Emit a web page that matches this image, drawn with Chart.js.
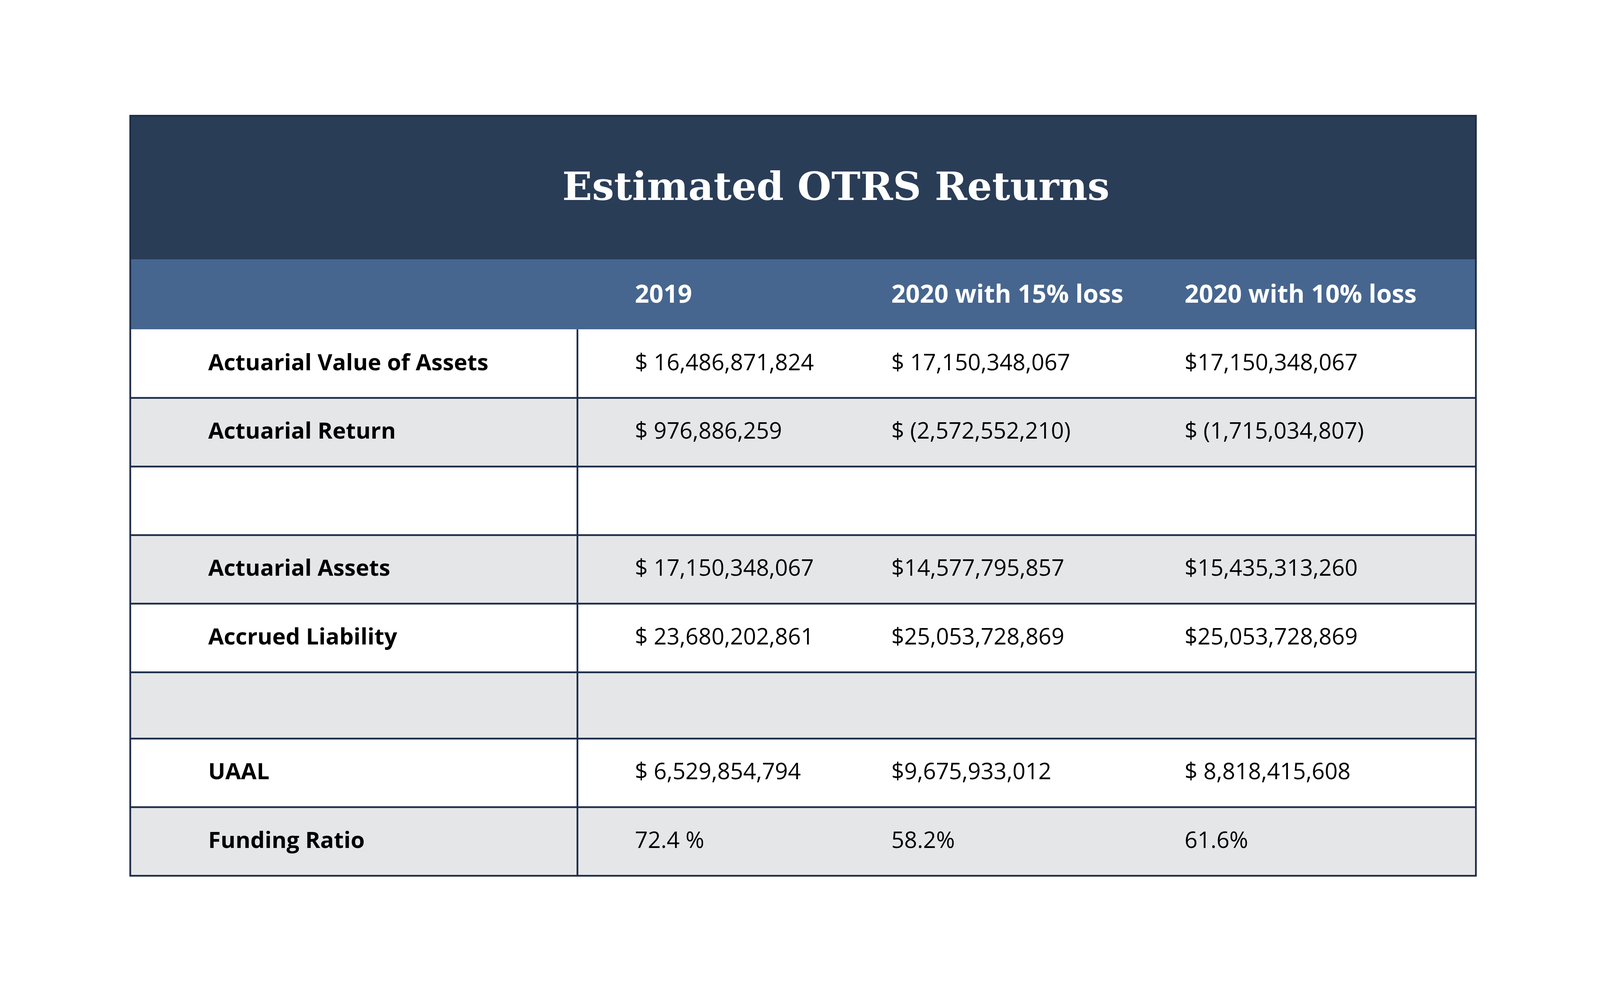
<!DOCTYPE html>
<html><head><meta charset="utf-8">
<script src="https://cdn.jsdelivr.net/npm/chart.js@4"></script>
<style>html,body{margin:0;padding:0;background:#fff;overflow:hidden}#wrap{position:relative;width:100vw;height:100vh}</style>
</head><body>
<div id="wrap"><canvas id="c"></canvas></div>
<script>
const title = "Estimated OTRS Returns";
const columns = ["", "2019", "2020 with 15% loss", "2020 with 10% loss"];
const rowLabels = ["Actuarial Value of Assets","Actuarial Return","","Actuarial Assets","Accrued Liability","","UAAL","Funding Ratio"];
const col2019 = ["$ 16,486,871,824","$ 976,886,259","","$ 17,150,348,067","$ 23,680,202,861","","$ 6,529,854,794","72.4 %"];
const col15 = ["$ 17,150,348,067","$ (2,572,552,210)","","$14,577,795,857","$25,053,728,869","","$9,675,933,012","58.2%"];
const col10 = ["$17,150,348,067","$ (1,715,034,807)","","$15,435,313,260","$25,053,728,869","","$ 8,818,415,608","61.6%"];
const rowShaded = [false,true,false,true,false,true,false,true];

const rowEdges = [190,251,312,373,434,495,554,615,676];
const colText = [76,492,742,1028];
const divX = 436;

const W = window.innerWidth, H = window.innerHeight;
const s = W / 1560, sy = H / 886.4;

const tablePlugin = {
  id:'table',
  afterDraw(chart){
    const {ctx, scales:{x,y}} = chart;
    const X = v => x.getPixelForValue(v), Y = v => y.getPixelForValue(v);
    const k = (X(1312)-X(0)) / 1312;
    ctx.save();
    ctx.fillStyle = '#2a3d57';
    ctx.fillRect(X(0), Y(0), X(1312)-X(0), Y(128)-Y(0));
    ctx.fillStyle = '#fff';
    ctx.font = `bold ${Math.round(38*k)}px "DejaVu Serif"`;
    ctx.textAlign = 'center'; ctx.textBaseline = 'middle';
    ctx.fillText(title, X(688), Y(66));
    ctx.fillStyle = '#46668f';
    ctx.fillRect(X(0), Y(128), X(1312)-X(0), Y(190)-Y(128));
    ctx.fillStyle = '#fff';
    ctx.font = `bold ${Math.round(24.5*k)}px "Open Sans"`;
    ctx.textAlign = 'left';
    columns.forEach((c,i)=>{ if(c) ctx.fillText(c, X(colText[i]), Y(160)); });
    for(let r=0;r<rowLabels.length;r++){
      const t=rowEdges[r], b=rowEdges[r+1], m=(t+b)/2;
      ctx.fillStyle = rowShaded[r] ? '#e5e6e8' : '#ffffff';
      ctx.fillRect(X(0), Y(t), X(1312)-X(0), Y(b)-Y(t));
      ctx.fillStyle = '#000';
      ctx.font = `bold ${Math.round(22*k)}px "Open Sans"`;
      ctx.fillText(rowLabels[r], X(colText[0]), Y(m));
      ctx.font = `${Math.round(22*k)}px "Open Sans"`;
      ctx.fillText(col2019[r], X(colText[1]), Y(m));
      ctx.fillText(col15[r], X(colText[2]), Y(m));
      ctx.fillText(col10[r], X(colText[3]), Y(m));
    }
    ctx.strokeStyle = '#1c2d4a'; ctx.lineWidth = Math.max(1, 1.7*k);
    for(let r=1;r<rowEdges.length-1;r++){
      ctx.beginPath(); ctx.moveTo(X(0),Y(rowEdges[r])); ctx.lineTo(X(1312),Y(rowEdges[r])); ctx.stroke();
    }
    ctx.beginPath(); ctx.moveTo(X(divX),Y(190)); ctx.lineTo(X(divX),Y(676)); ctx.stroke();
    ctx.strokeRect(X(0),Y(0),X(1312)-X(0),Y(676)-Y(0));
    ctx.restore();
  }
};

new Chart(document.getElementById('c'), {
  type:'scatter',
  data:{datasets:[{data:[]}]},
  options:{
    responsive:true, maintainAspectRatio:false, animation:false,
    layout:{padding:{left:127*s,right:121*s,top:103*sy,bottom:107*sy}},
    plugins:{legend:{display:false},tooltip:{enabled:false}},
    scales:{
      x:{type:'linear',min:0,max:1312,display:false},
      y:{type:'linear',min:0,max:676,reverse:true,display:false}
    }
  },
  plugins:[tablePlugin]
});
</script>
</body></html>
